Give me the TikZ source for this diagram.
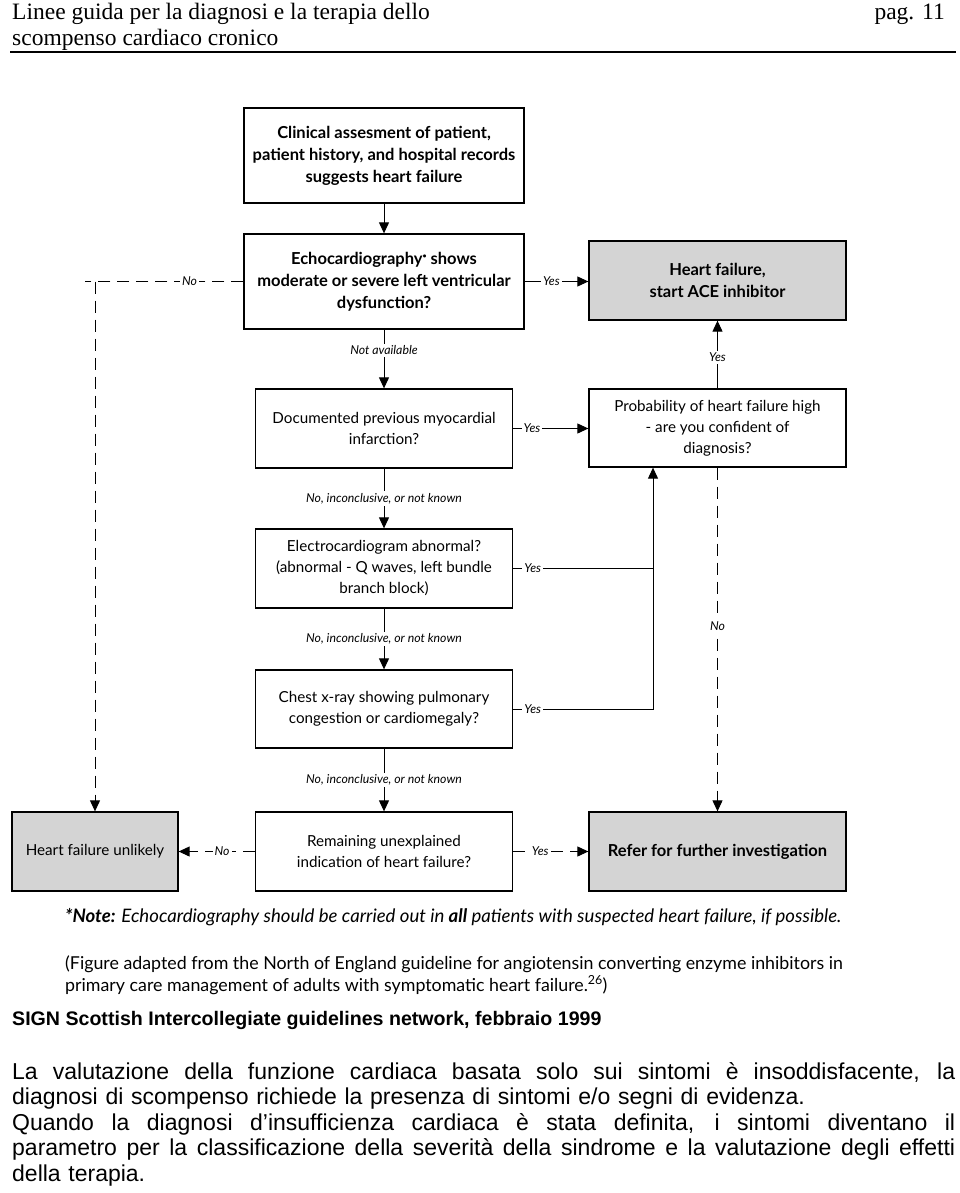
\documentclass[tikz,border=0pt]{standalone}
\usepackage{fontspec}
\setmainfont{Liberation Serif}
\newfontfamily\chartfont{Lato}
\newfontfamily\arialfont{Liberation Sans}
\usetikzlibrary{arrows.meta}
\newcommand{\justline}[1]{\makebox[943pt][s]{\spaceskip=.28em plus 3em\relax #1}}

\begin{document}
\begin{tikzpicture}[x=1pt, y=-1pt,
  box/.style={draw, line width=1.3pt, minimum width=257pt, minimum height=79pt, align=center, inner sep=2pt,
    font=\chartfont\fontsize{15.2}{21}\selectfont},
  boldbox/.style={box, font=\chartfont\bfseries\fontsize{16.5}{22}\selectfont},
  shadebox/.style={boldbox, fill=black!17},
  link/.style={line width=1pt, -{Triangle[length=11pt, width=10pt]}},
  dlink/.style={link, dash pattern=on 12pt off 7pt},
  lbl/.style={fill=white, inner sep=2pt, font=\chartfont\itshape\fontsize{12.3}{13}\selectfont}]
\useasboundingbox (0,0) rectangle (960,1193);

\node[anchor=base west, inner sep=0, font=\fontsize{23.5}{26}\selectfont] (head1) at (12,20) {Linee guida per la diagnosi e la terapia dello};
\node[anchor=base west, inner sep=0, font=\fontsize{23.5}{26}\selectfont] (head2) at (12,46) {scompenso cardiaco cronico};
\node[anchor=base east, inner sep=0, font=\fontsize{23.5}{26}\selectfont] (page) at (945,20) {pag. 11};
\draw[line width=1.2pt] (10,52) -- (956,52);

\node[boldbox, minimum width=280pt, minimum height=95pt] (clin) at (384,155.5) {Clinical assesment of patient,\\patient history, and hospital records\\suggests heart failure};
\node[boldbox, minimum width=280pt, minimum height=95pt] (echo) at (384,281.5) {Echocardiography\raisebox{.35em}{\scriptsize\textbullet} shows\\moderate or severe left ventricular\\dysfunction?};
\node[shadebox] (ace) at (717.5,280.5) {Heart failure,\\start ACE inhibitor};
\node[box] (mi) at (384,428.5) {Documented previous myocardial\\infarction?};
\node[box, minimum height=78pt] (prob) at (717.5,428) {Probability of heart failure high\\- are you confident of\\diagnosis?};
\node[box] (ecg) at (384,568.5) {Electrocardiogram abnormal?\\(abnormal - Q waves, left bundle\\branch block)};
\node[box, minimum height=78pt] (cxr) at (384,709) {Chest x-ray showing pulmonary\\congestion or cardiomegaly?};
\node[box, fill=black!17, minimum width=166pt] (unl) at (95,851.5) {Heart failure unlikely};
\node[box] (rem) at (384,851.5) {Remaining unexplained\\indication of heart failure?};
\node[shadebox] (ref) at (717.5,851.5) {Refer for further investigation};

\coordinate (nocorner) at (unl.north |- echo.west);
\coordinate (noend) at ([xshift=-10pt]nocorner);
\coordinate (jn) at (653,709);

\draw[link] (clin) -- (echo);
\draw[link] (echo.east) -- node[lbl, pos=0.42] {Yes} (echo.east -| ace.west);
\draw[dash pattern=on 12pt off 7pt, line width=1pt] (echo.west) -- node[lbl, pos=0.34] {No} (noend);
\draw[dlink] (nocorner) -- (unl.north);
\draw[link] (echo) -- node[lbl, pos=0.35] {Not available} (mi);
\draw[link] (mi.east) -- node[lbl, pos=0.25] {Yes} (mi.east -| prob.west);
\draw[link] (prob) -- node[lbl, pos=0.46] {Yes} (ace);
\draw[dlink] (prob) -- node[lbl, pos=0.46] {No} (ref);
\draw[link] (mi) -- node[lbl] {No, inconclusive, or not known} (ecg);
\draw[link] (ecg) -- node[lbl] {No, inconclusive, or not known} (cxr);
\draw[link] (cxr) -- node[lbl] {No, inconclusive, or not known} (rem);
\draw[line width=1pt] (ecg.east) -- node[lbl, pos=0.14] {Yes} (ecg.east -| jn);
\draw[link] (cxr.east) -- node[lbl, pos=0.14] {Yes} (jn) -- (jn |- prob.south);
\draw[dlink] (rem) -- node[lbl, pos=0.43] {No} (unl);
\draw[dlink] (rem) -- node[lbl, pos=0.36] {Yes} (ref);

\node[anchor=base west, inner sep=0, font=\chartfont\itshape\fontsize{18.6}{20}\selectfont] (note) at (65,922) {{\bfseries *Note:} Echocardiography should be carried out in {\bfseries all} patients with suspected heart failure, if possible.};
\node[anchor=base west, inner sep=0, font=\chartfont\fontsize{17.8}{20}\selectfont] (src1) at (65,969) {(Figure adapted from the North of England guideline for angiotensin converting enzyme inhibitors in};
\node[anchor=base west, inner sep=0, font=\chartfont\fontsize{17.8}{20}\selectfont] (src2) at (65,991) {primary care management of adults with symptomatic heart failure.\textsuperscript{26})};

\node[anchor=base west, inner sep=0, font=\arialfont\bfseries\fontsize{19.6}{22}\selectfont] (sign) at (12,1025) {SIGN Scottish Intercollegiate guidelines network, febbraio 1999};
\node[anchor=base west, inner sep=0, text width=943pt, align=left, font=\arialfont\fontsize{23}{25.5}\selectfont] (para) at (12,1079) {%
\justline{La valutazione della funzione cardiaca basata solo sui sintomi è insoddisfacente, la}\\
diagnosi di scompenso richiede la presenza di sintomi e/o segni di evidenza.\\
\justline{Quando la diagnosi d’insufficienza cardiaca è stata definita, i sintomi diventano il}\\
\justline{parametro per la classificazione della severità della sindrome e la valutazione degli effetti}\\
della terapia.};
\end{tikzpicture}
\end{document}
